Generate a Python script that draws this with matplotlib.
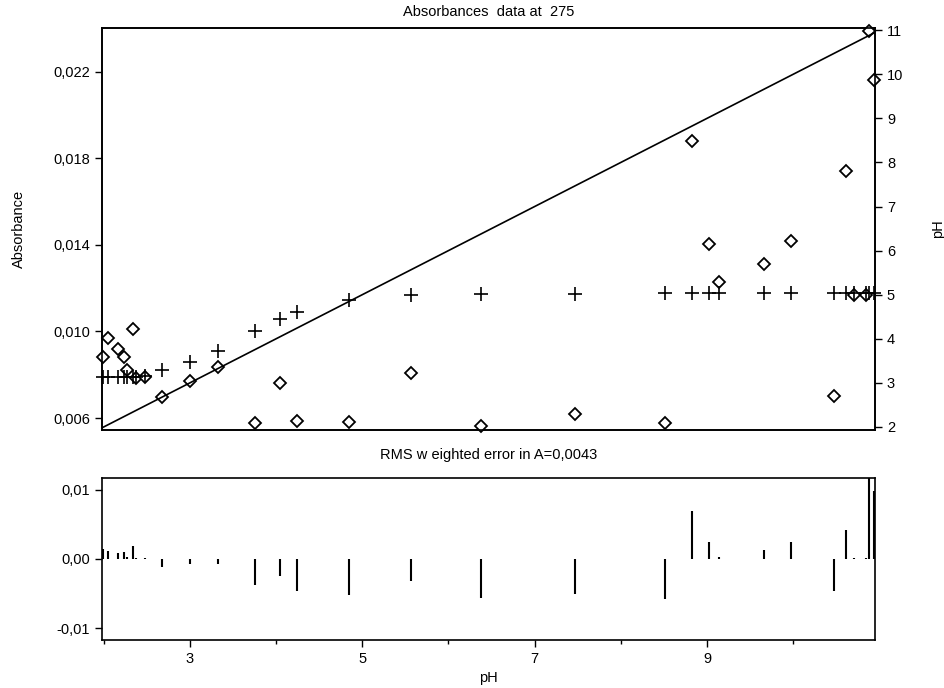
import numpy as np
import matplotlib
matplotlib.use("Agg")
import matplotlib.pyplot as plt
from matplotlib.ticker import FuncFormatter, FixedLocator

plt.rcParams["font.family"] = ["Liberation Sans", "DejaVu Sans"]

# measured pH of each sample
ph = [1.99, 2.05, 2.16, 2.23, 2.27, 2.34, 2.37, 2.48, 2.67, 3.00,
      3.33, 3.76, 4.04, 4.24, 4.85, 5.57, 6.38, 7.47, 8.51, 8.82,
      9.02, 9.14, 9.66, 9.98, 10.47, 10.61, 10.71, 10.84, 10.88, 10.94]

# measured absorbance (diamonds)
abs_meas = [0.00880, 0.00972, 0.00921, 0.00880, 0.00824, 0.01009, 0.00783, 0.00790, 0.00698, 0.00772,
            0.00834, 0.00578, 0.00763, 0.00588, 0.00580, 0.00809, 0.00563, 0.00617, 0.00576, 0.01878,
            0.01402, 0.01228, 0.01310, 0.01417, 0.00701, 0.01740, 0.01170, 0.01170, 0.02388, 0.02162]

# fitted absorbance (crosses)
abs_fit = [0.00790, 0.00790, 0.00790, 0.00790, 0.00790, 0.00790, 0.00790, 0.00792, 0.00824, 0.00858,
           0.00910, 0.01002, 0.01056, 0.01090, 0.01147, 0.01170, 0.01175, 0.01175, 0.01176, 0.01176,
           0.01176, 0.01176, 0.01176, 0.01176, 0.01176, 0.01176, 0.01176, 0.01176, 0.01176, 0.01176]

# weighted residuals (bottom panel)
resid = [0.0015, 0.0012, 0.0008, 0.0010, 0.0003, 0.0019, 0.0001, 0.0001, -0.0011, -0.0007,
         -0.0007, -0.0038, -0.0025, -0.0046, -0.0052, -0.0032, -0.0057, -0.0051, -0.0058, 0.0070,
         0.0024, 0.0003, 0.0013, 0.0024, -0.0047, 0.0042, 0.0001, 0.0001, 0.0120, 0.0098]

left_ticks = [0.006, 0.010, 0.014, 0.018, 0.022]
right_ticks = [2, 3, 4, 5, 6, 7, 8, 9, 10, 11]
res_ticks = [-0.01, 0.0, 0.01]
x_major = [3, 5, 7, 9]
x_minor = [2, 4, 6, 8, 10]


def comma(fmt):
    return FuncFormatter(lambda v, pos: (fmt % v).replace(".", ","))


fig = plt.figure(figsize=(9.45, 6.88), dpi=100)
ax = fig.add_axes([0.108, 0.375, 0.818, 0.584])
axr = ax.twinx()
ax2 = fig.add_axes([0.108, 0.070, 0.818, 0.235])

fs = 10.5

# top panel
ax.plot(ph, abs_meas, linestyle="none", marker="D", ms=5.8, mfc="white",
        mec="black", mew=1.3, zorder=3, clip_on=False)
ax.plot(ph, abs_fit, linestyle="none", marker="+", ms=9.5, mec="black",
        mew=1.2, zorder=3, clip_on=False)
axr.plot([ph[0], ph[-1]], [ph[0], ph[-1]], color="black", lw=1.2)

ax.set_xlim(1.98, 10.95)
ax.set_ylim(0.00545, 0.0240)
axr.set_ylim(1.93, 11.045)

ax.yaxis.set_major_locator(FixedLocator(left_ticks))
ax.yaxis.set_major_formatter(comma("%.3f"))
axr.yaxis.set_major_locator(FixedLocator(right_ticks))
axr.yaxis.set_major_formatter(FuncFormatter(lambda v, pos: "%d" % v))
ax.set_xticks([])
ax.tick_params(axis="y", labelsize=fs, length=5, width=1, direction="out")
axr.tick_params(axis="y", labelsize=fs, length=5, width=1, direction="out")
ax.set_ylabel("Absorbance", fontsize=fs, labelpad=20)
axr.set_ylabel("pH", fontsize=fs, labelpad=20)
ax.set_title("Absorbances  data at  275", fontsize=fs, pad=9)

# bottom panel: residuals
ax2.vlines(ph, 0, resid, color="black", lw=1.5)
ax2.set_xlim(1.98, 10.95)
ax2.set_ylim(-0.0117, 0.0117)
ax2.yaxis.set_major_locator(FixedLocator(res_ticks))
ax2.yaxis.set_major_formatter(comma("%.2f"))
ax2.xaxis.set_major_locator(FixedLocator(x_major))
ax2.xaxis.set_minor_locator(FixedLocator(x_minor))
ax2.xaxis.set_major_formatter(FuncFormatter(lambda v, pos: "%d" % v))
ax2.tick_params(axis="both", which="major", labelsize=fs, length=5, width=1, direction="out")
ax2.tick_params(axis="x", which="minor", length=3, width=1, direction="out")
ax2.set_xlabel("pH", fontsize=fs, labelpad=4)
ax2.set_title("RMS w eighted error in A=0,0043", fontsize=fs, pad=14)

for a in (ax, axr, ax2):
    for s in a.spines.values():
        s.set_linewidth(1.2)

fig.savefig("out.png", dpi=100)
